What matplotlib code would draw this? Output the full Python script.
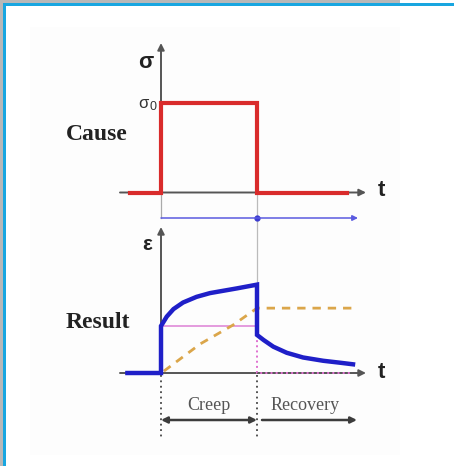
import matplotlib
matplotlib.use("Agg")
import matplotlib.pyplot as plt
from matplotlib.patches import Rectangle

W, H = 454, 466

# --- data (time in units of the loading period, stress / strain normalised) ---
t_load, t_unload = 0.0, 1.0
t_start, t_end = -0.32, 1.94
sigma0 = 1.0

strain_pre_t = [-0.35, 0.0]
creep_t = [0.0, 0.06, 0.13, 0.23, 0.37, 0.51, 0.65, 0.79, 1.0]
creep_eps = [1.0, 1.20, 1.36, 1.50, 1.62, 1.70, 1.75, 1.80, 1.88]
recov_t = [1.0, 1.07, 1.17, 1.31, 1.48, 1.69, 1.86, 2.0]
recov_eps = [0.81, 0.70, 0.56, 0.43, 0.33, 0.26, 0.22, 0.185]
elastic_eps = 1.0
visc_t = [0.03, 0.41, 0.75, 1.0, 2.05]
visc_eps = [0.04, 0.62, 1.02, 1.38, 1.38]

# pixel mapping of the axes
T_PX0, T_PX = 161, 96
SIG_PX0, SIG_PX = 192.5, 89.5
EPS_PX0, EPS_PX = 373, 47

AXIS_C = "#555555"
fig = plt.figure(figsize=(W / 100, H / 100), dpi=100)

bg = fig.add_axes([0, 0, 1, 1])
bg.set_xlim(0, W)
bg.set_ylim(H, 0)
bg.axis("off")
bg.add_patch(Rectangle((30, 27), 370, 428, facecolor="#fdfdfd", edgecolor="none"))
bg.add_patch(Rectangle((0, 0), 400, 3, facecolor="#b8b8b8", edgecolor="none"))
bg.add_patch(Rectangle((0, 0), 2.5, H, facecolor="#b8b8b8", edgecolor="none"))
bg.add_patch(Rectangle((2.5, 3), W, 3, facecolor="#18a6e0", edgecolor="none"))
bg.add_patch(Rectangle((2.5, 3), 3, H, facecolor="#18a6e0", edgecolor="none"))


def place(y0, y1, v0, vs):
    ax = fig.add_axes([100 / W, 1 - y1 / H, 300 / W, (y1 - y0) / H])
    ax.set_xlim((100 - T_PX0) / T_PX, (400 - T_PX0) / T_PX)
    ax.set_ylim((v0 - y1) / vs, (v0 - y0) / vs)
    ax.axis("off")
    ax.patch.set_visible(False)
    return ax


def arrow(ax, p0, p1, color=AXIS_C, lw=1.4, style="-|>", ms=10):
    ax.annotate("", xy=p1, xytext=p0,
                arrowprops=dict(arrowstyle=style, color=color, lw=lw,
                                mutation_scale=ms, shrinkA=0, shrinkB=0))


top = place(30, 230, SIG_PX0, SIG_PX)
bot = place(220, 450, EPS_PX0, EPS_PX)

x_left = (120 - T_PX0) / T_PX
x_tip = (366 - T_PX0) / T_PX

# cause panel
arrow(top, (x_left, 0), (x_tip, 0))
arrow(top, (0, 0), (0, (SIG_PX0 - 43) / SIG_PX))
top.plot([t_start, t_load, t_load, t_unload, t_unload, t_end],
         [0, 0, sigma0, sigma0, 0, 0], color="#d92b2b", lw=3,
         solid_joinstyle="miter", zorder=3)
y_time = (SIG_PX0 - 218) / SIG_PX
top.plot([t_load, t_load], [0, y_time], color="#aaaaaa", lw=0.9)
peak_top = top.transData.inverted().transform(
    bot.transData.transform((t_unload, creep_eps[-1])))[1]
top.plot([t_unload, t_unload], [0, peak_top], color="#bbbbbb", lw=0.9,
         clip_on=False)
arrow(top, (t_load, y_time), ((358 - T_PX0) / T_PX, y_time),
      color="#5a5ae0", lw=1.1, ms=8)
top.plot([t_unload], [y_time], "o", color="#3a3ad0", ms=3.5)

# result panel
arrow(bot, (x_left, 0), (x_tip, 0))
arrow(bot, (0, 0), (0, (EPS_PX0 - 227) / EPS_PX))
bot.plot([t_load, t_unload], [elastic_eps, elastic_eps], color="#e08ad8", lw=1.2)
bot.plot([t_unload, t_unload, recov_t[-1]], [recov_eps[0], 0, 0], color="#e070d0",
         lw=1.4, ls=":", zorder=3)
bot.plot(visc_t, visc_eps, color="#dba64a", lw=2, ls=(0, (3, 2.5)), zorder=3)
bot.plot(strain_pre_t + creep_t + recov_t, [0, 0] + creep_eps + recov_eps,
         color="#1f1fc8", lw=3.2, solid_joinstyle="miter", zorder=4)

y_lo, y_hi = (EPS_PX0 - 375) / EPS_PX, (EPS_PX0 - 440) / EPS_PX
for t in (t_load, t_unload):
    bot.plot([t, t], [y_lo, y_hi], color="#444444", lw=1.3, ls=(0, (1, 2)))
y_arr = (EPS_PX0 - 420) / EPS_PX
arrow(bot, (t_load, y_arr), (t_unload, y_arr), color="#3c3c3c", lw=1.8,
      style="<|-|>", ms=9)
arrow(bot, ((262 - T_PX0) / T_PX, y_arr), ((357 - T_PX0) / T_PX, y_arr),
      color="#3c3c3c", lw=1.8, ms=9)
y_txt = (EPS_PX0 - 406) / EPS_PX
bot.text((t_load + t_unload) / 2, y_txt, "Creep", ha="center", va="center",
         family="Liberation Serif", fontsize=13, color="#555555")
bot.text((262 - T_PX0) / T_PX + 0.45, y_txt, "Recovery", ha="center", va="center",
         family="Liberation Serif", fontsize=13, color="#555555")

# labels
sans = dict(family="Liberation Sans", fontweight="bold", color="#222222")
bg.text(146, 63, "σ", ha="center", va="center", fontsize=16, **sans)
bg.text(381, 191, "t", ha="center", va="center", fontsize=16, **sans)
bg.text(147, 245, "ε", ha="center", va="center", fontsize=15, **sans)
bg.text(381, 372, "t", ha="center", va="center", fontsize=16, **sans)
bg.text(143, 103, "σ", ha="center", va="center", fontsize=12,
        family="Liberation Sans", color="#333333")
bg.text(152.5, 107, "0", ha="center", va="center", fontsize=9,
        family="Liberation Sans", color="#333333")
serif = dict(family="Liberation Serif", fontweight="bold", color="#222222",
             fontsize=17, ha="center", va="center")
bg.text(97, 134, "Cause", **serif)
bg.text(98, 322, "Result", **serif)

fig.savefig("out.png", dpi=100)
